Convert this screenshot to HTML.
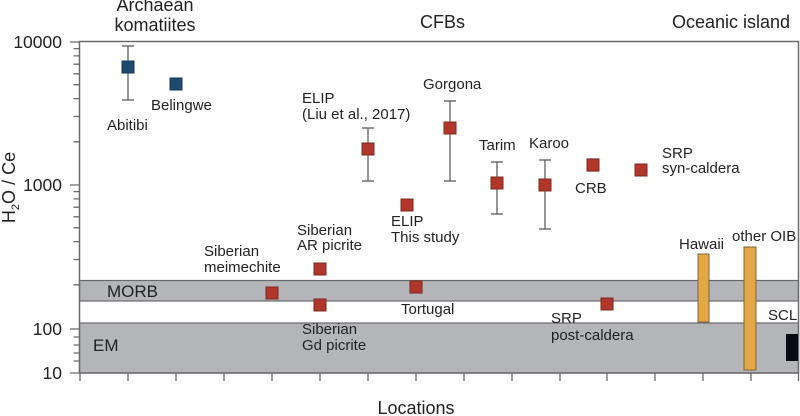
<!DOCTYPE html>
<html><head><meta charset="utf-8"><style>
html,body{margin:0;padding:0;background:#fff;}
svg{display:block;}
text{font-family:"Liberation Sans",Arial,sans-serif;fill:#222;}
</style></head><body>
<svg width="800" height="416" viewBox="0 0 800 416" xmlns="http://www.w3.org/2000/svg">
<rect x="79.5" y="280.5" width="719" height="20.5" fill="#b4b5b9" stroke="#6a6a6a" stroke-width="1.2"/>
<rect x="79.5" y="323" width="719" height="50" fill="#b4b5b9" stroke="#6a6a6a" stroke-width="1.2"/>
<rect x="79.5" y="41.5" width="719" height="331.5" fill="none" stroke="#6a6a6a" stroke-width="1.5"/>
<g stroke="#6a6a6a" stroke-width="1.3">
<path d="M70 42H79.5M70 185H79.5M70 329H79.5M70 373H79.5"/>
<path d="M73.5 48.6H79.5M73.5 55.9H79.5M73.5 64.2H79.5M73.5 73.8H79.5M73.5 84.7H79.5M73.5 98.6H79.5M73.5 116.5H79.5M73.5 141.8H79.5"/>
<path d="M73.5 191.6H79.5M73.5 198.9H79.5M73.5 207.2H79.5M73.5 216.8H79.5M73.5 227.7H79.5M73.5 241.6H79.5M73.5 259.5H79.5M73.5 284.8H79.5"/>
<path d="M73.5 337H79.5M73.5 345H79.5M73.5 353H79.5M73.5 361H79.5"/>
<path d="M80 373V381M128 373V381M176 373V381M224 373V381M272 373V381M320 373V381M368 373V381M416 373V381M464 373V381M512 373V381M560 373V381M607 373V381M655 373V381M703 373V381M751 373V381M798.5 373V381"/>
</g>
<g font-size="17.5" text-anchor="end">
<text x="62" y="48">10000</text>
<text x="62" y="191">1000</text>
<text x="62" y="335">100</text>
<text x="62" y="379">10</text>
</g>
<text transform="translate(15,187.5) rotate(-90)" font-size="18" text-anchor="middle">H<tspan font-size="11" dy="4">2</tspan><tspan dy="-4">O / Ce</tspan></text>
<text x="416" y="414" font-size="18" text-anchor="middle">Locations</text>
<text x="155" y="11" font-size="18" text-anchor="middle">Archaean</text>
<text x="155" y="31" font-size="18" text-anchor="middle">komatiites</text>
<text x="420" y="28" font-size="18">CFBs</text>
<text x="672" y="28" font-size="18">Oceanic island</text>
<g stroke="#555" stroke-width="1.2" fill="none">
<path d="M128 46V100M122 46H134M122 100H134"/>
<path d="M368 128V181M362 128H374M362 181H374"/>
<path d="M450 101V181M444 101H456M444 181H456"/>
<path d="M497 162V214M491 162H503M491 214H503"/>
<path d="M545 160V229M539 160H551M539 229H551"/>
<path d="M593 159V171M587 159H599M587 171H599"/>
</g>
<rect x="698" y="254" width="11" height="68" fill="#e3a845" stroke="#7d6640" stroke-width="1"/>
<rect x="744" y="247" width="12" height="123" fill="#e3a845" stroke="#7d6640" stroke-width="1"/>
<rect x="786" y="334" width="12" height="27" fill="#0a0a14"/>
<g fill="#1f4a6f" stroke="#153650" stroke-width="1">
<rect x="122" y="61" width="12" height="12"/>
<rect x="170" y="78" width="12" height="12"/>
</g>
<g fill="#b1372a" stroke="#7a2a22" stroke-width="1">
<rect x="266" y="287" width="12" height="12"/>
<rect x="314" y="263" width="12" height="12"/>
<rect x="314" y="299" width="12" height="12"/>
<rect x="362" y="143" width="12" height="12"/>
<rect x="401" y="199" width="12" height="12"/>
<rect x="410" y="281" width="12" height="12"/>
<rect x="444" y="122" width="12" height="12"/>
<rect x="491" y="177" width="12" height="12"/>
<rect x="539" y="179" width="12" height="12"/>
<rect x="587" y="159" width="12" height="12"/>
<rect x="635" y="164" width="12" height="12"/>
<rect x="601" y="298" width="12" height="12"/>
</g>
<g font-size="15">
<text x="107" y="130">Abitibi</text>
<text x="151" y="110">Belingwe</text>
<text x="204" y="256">Siberian</text>
<text x="204" y="272">meimechite</text>
<text x="297" y="235">Siberian</text>
<text x="297" y="250">AR picrite</text>
<text x="302" y="103">ELIP</text>
<text x="302" y="119">(Liu et al., 2017)</text>
<text x="423" y="89">Gorgona</text>
<text x="391" y="226">ELIP</text>
<text x="391" y="242">This study</text>
<text x="479" y="150">Tarim</text>
<text x="529" y="148">Karoo</text>
<text x="575" y="193">CRB</text>
<text x="662" y="158">SRP</text>
<text x="662" y="173">syn-caldera</text>
<text x="302" y="334">Siberian</text>
<text x="302" y="350">Gd picrite</text>
<text x="401" y="314">Tortugal</text>
<text x="551" y="323">SRP</text>
<text x="551" y="340">post-caldera</text>
<text x="679" y="249">Hawaii</text>
<text x="732" y="241">other OIB</text>
<text x="768" y="320">SCL</text>
</g>
<text x="107" y="297" font-size="17">MORB</text>
<text x="93" y="351" font-size="17">EM</text>
</svg>
</body></html>
